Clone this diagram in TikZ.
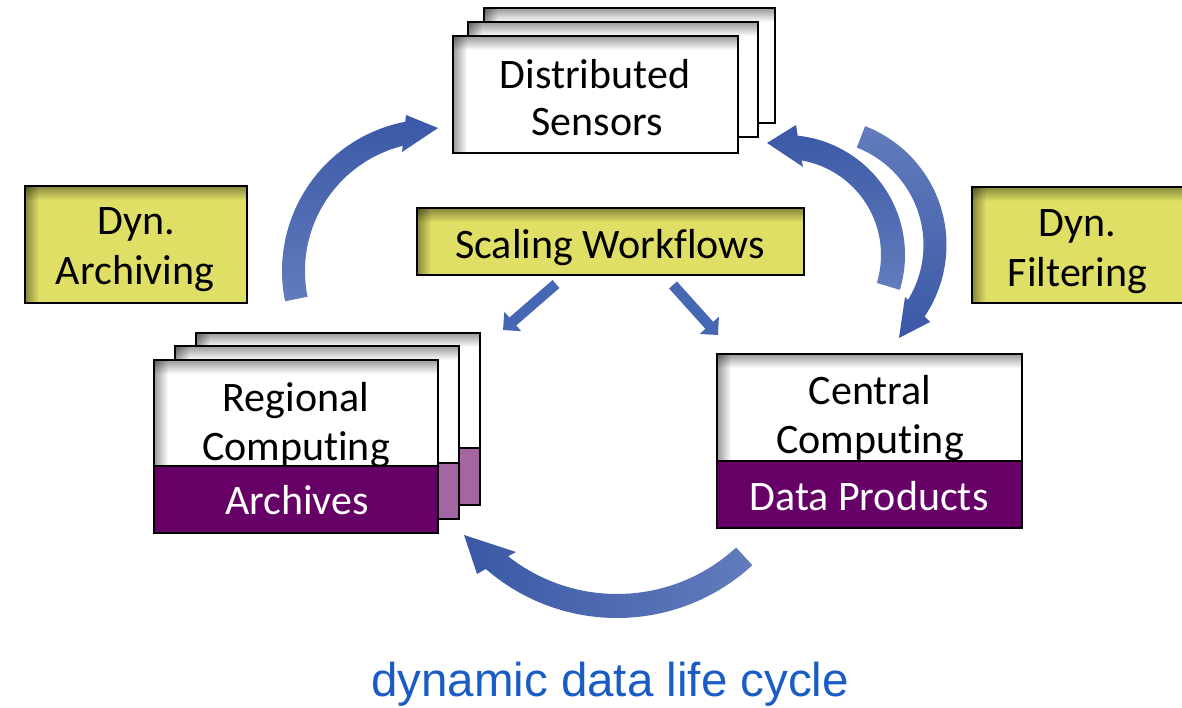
\documentclass[tikz,border=0pt]{standalone}
\usepackage{fontspec}
\setmainfont{Carlito}[Ligatures=CommonOff]
\newfontfamily\arialfont{Liberation Sans}
\usetikzlibrary{calc,fadings,arrows.meta}
\definecolor{pyel}{RGB}{223,223,102}
\definecolor{ppur}{RGB}{102,0,102}
\definecolor{pblueD}{RGB}{58,88,166}
\definecolor{pblueL}{RGB}{98,124,188}
\definecolor{pblueM}{RGB}{70,103,180}
\definecolor{ptxt}{RGB}{26,92,198}
\tikzfading[name=shfadetop, top color=transparent!0, bottom color=transparent!100]
\tikzfading[name=shfadeleft, left color=transparent!0, right color=transparent!100]
\tikzset{
  boxline/.style={draw=black, line width=2.8pt},
  whitebox/.style={boxline, fill=white, inner sep=0pt, outer sep=0pt},
  yelbox/.style={boxline, fill=pyel, inner sep=0pt, outer sep=0pt},
  band/.style={boxline, fill=ppur, inner sep=0pt, outer sep=0pt},
  fadeband/.style={band, fill opacity=0.6},
  lbl/.style={font=\fontsize{42}{49}\selectfont, inner sep=0pt, anchor=base},
  wlbl/.style={lbl, text=white},
  shadowstrip/.style={fill=black, fill opacity=0.4},
  smallarrow/.style={draw=pblueM, line width=10.5pt, -{Triangle[length=13pt,width=25pt]}},
}
\newcommand\pshadow[4]{%
  \fill[shadowstrip, path fading=shfadetop] (#1,#2) rectangle (#3,#2+14);
  \fill[shadowstrip, path fading=shfadeleft] (#1,#2) rectangle (#1+14,#4);
}
\begin{document}
\begin{tikzpicture}[x=1pt,y=-1pt]
\fill[white] (0,0) rectangle (1182,708);
\useasboundingbox (0,0) rectangle (1182,708);

% ---- top stack: Distributed Sensors
\node[whitebox, minimum width=291pt, minimum height=115pt] (ds3) at (629.5,65.5) {};
\pshadow{484}{8}{775}{123}
\node[whitebox, minimum width=290pt, minimum height=115pt] (ds2) at (613,79.5) {};
\pshadow{468}{22}{758}{137}
\node[whitebox, minimum width=285pt, minimum height=117pt] (ds1) at (595.5,94.5) {};
\pshadow{453}{36}{738}{153}
\node[lbl] (dst1) at (595,89) {Distributed};
\node[lbl] (dst2) at (597,136) {Sensors};

% ---- left stack: Regional Computing
\node[whitebox, minimum width=284pt, minimum height=172pt] (rc3) at (338,419) {};
\pshadow{196}{333}{480}{505}
\node[fadeband, minimum width=284pt, minimum height=57pt] (rb3) at (338,476.5) {};
\node[whitebox, minimum width=284pt, minimum height=173pt] (rc2) at (317,432.5) {};
\pshadow{175}{346}{459}{519}
\node[fadeband, minimum width=284pt, minimum height=56pt] (rb2) at (317,491) {};
\node[whitebox, minimum width=284pt, minimum height=173pt] (rc1) at (296,446.5) {};
\pshadow{154}{360}{438}{533}
\node[lbl] (rct1) at (296,411) {Regional};
\node[lbl] (rct2) at (296,460) {Computing};
\node[band, minimum width=284pt, minimum height=67pt] (rb1) at (296,499.5) {};
\node[wlbl] (rbt) at (297,514) {Archives};

% ---- central computing
\node[whitebox, minimum width=305pt, minimum height=174pt] (cc) at (869.5,441) {};
\pshadow{717}{354}{1022}{528}
\node[lbl] (cct1) at (870,404) {Central};
\node[lbl] (cct2) at (870,453) {Computing};
\node[band, minimum width=305pt, minimum height=67pt] (cb) at (869.5,494.5) {};
\node[wlbl] (cbt) at (869,510) {Data Products};

% ---- yellow boxes
\node[yelbox, minimum width=222pt, minimum height=117pt] (arch) at (136,244.5) {};
\pshadow{25}{186}{247}{303}
\node[lbl] (archt1) at (136,235) {Dyn.};
\node[lbl] (archt2) at (135,285) {Archiving};

\node[yelbox, minimum width=212pt, minimum height=116pt] (filt) at (1078,245) {};
\pshadow{972}{187}{1184}{303}
\node[lbl] (filtt1) at (1077.5,236.5) {Dyn.};
\node[lbl] (filtt2) at (1077.5,286.5) {Filtering};

\node[yelbox, minimum width=387pt, minimum height=67pt] (scal) at (610.5,241.5) {};
\pshadow{417}{208}{804}{275}
\node[lbl] (scalt) at (610,259) {Scaling Workflows};

% ---- curved arrows
\coordinate (c1) at (434,271);
\shade[top color=pblueD, bottom color=pblueL]
  ($(c1)+(168.5:152)$) arc[start angle=168.5, end angle=259.1, radius=152]
  -- (406,115) -- (438,128) -- (402,152)
  -- ($(c1)+(256:129)$) arc[start angle=256, end angle=168.5, radius=129] -- cycle;

\coordinate (c2) at (819,245);
\shade[top color=pblueL, bottom color=pblueD]
  ($(c2)+(-68.8:127.5)$) arc[start angle=-68.8, end angle=34.1, radius=127.5]
  -- (930,322) -- (899,338) -- (905,297)
  -- ($(c2)+(31.7:104.5)$) arc[start angle=31.7, end angle=-68.8, radius=104.5] -- cycle;

\coordinate (c3) at (785,255);
\shade[top color=pblueD, bottom color=pblueL]
  ($(c3)+(16.9:120)$) arc[start angle=16.9, end angle=-83.9, radius=120]
  -- (796,125) -- (767,143) -- (803,167)
  -- ($(c3)+(-79.9:96)$) arc[start angle=-79.9, end angle=16.9, radius=96] -- cycle;

\coordinate (c4) at (617,418);
\shade[left color=pblueD, right color=pblueL]
  ($(c4)+(47.4:200)$) arc[start angle=47.4, end angle=131.0, radius=200]
  -- (477,574) -- (464,535) -- (516,552)
  -- ($(c4)+(128.2:176)$) arc[start angle=128.2, end angle=47.4, radius=176] -- cycle;

% ---- small arrows
\coordinate (sa1) at (556,284);
\coordinate (sa2) at (503,330);
\coordinate (sb1) at (673,285);
\coordinate (sb2) at (718,335);
\draw[smallarrow] (sa1) -- (sa2);
\draw[smallarrow] (sb1) -- (sb2);

% ---- caption
\node[font=\arialfont\fontsize{47.5}{52}\selectfont, text=ptxt, anchor=base, inner sep=0pt] (cap) at (610,696) {dynamic data life cycle};
\end{tikzpicture}
\end{document}
